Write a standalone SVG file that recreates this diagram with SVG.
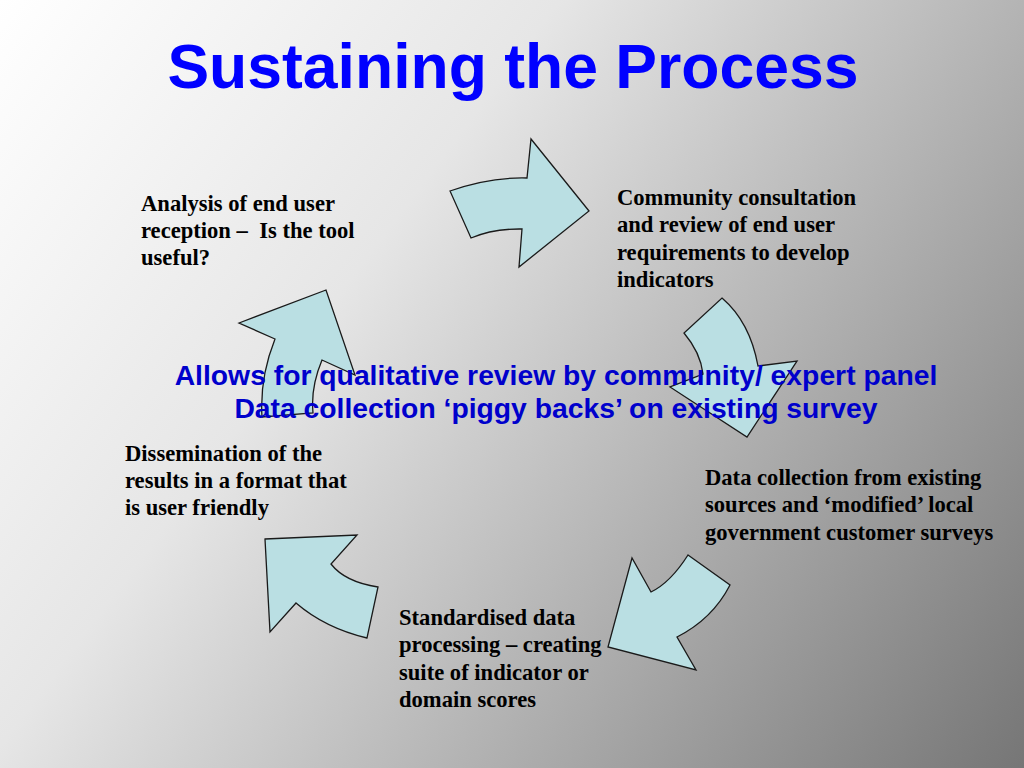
<svg xmlns="http://www.w3.org/2000/svg" width="1024" height="768" viewBox="0 0 1024 768">
<defs>
<linearGradient id="bg" gradientUnits="userSpaceOnUse" x1="0" y1="0" x2="1024" y2="768">
<stop offset="0" stop-color="#ffffff"/>
<stop offset="0.35" stop-color="#e6e6e6"/>
<stop offset="1" stop-color="#767676"/>
</linearGradient>
<style>
.arrow{fill:#badfe3;stroke:#1a1a1a;stroke-width:1.3;stroke-linejoin:miter}
.body{font-family:"Liberation Serif","Times New Roman",serif;font-weight:bold;font-size:22.6px;fill:#000}
.mid{font-family:"Liberation Sans",Arial,sans-serif;font-weight:bold;font-size:28.3px;fill:#0000cc;text-anchor:middle}
.title{font-family:"Liberation Sans",Arial,sans-serif;font-weight:bold;font-size:62.5px;fill:#0000ff;text-anchor:middle}
</style>
</defs>
<rect x="0" y="0" width="1024" height="768" fill="url(#bg)"/>
<text class="title" x="513" y="88">Sustaining the Process</text>
<g id="connectors">
<path id="arrow-top" class="arrow" d="M450,191 Q489.5,177 527,178 L531,139 L589,211 L519,267 L522,229 Q493.5,228.5 471,238 Z"/>
<path id="arrow-right" class="arrow" d="M722,298 Q750,322 758,366 L797,361 L747,437 L670,387 L703,374 Q700.5,352.5 684,333 Z"/>
<path id="arrow-bottom-right" class="arrow" d="M688,555 L730,585 Q712.5,619 677,637 L696,670 L608,647 L632,558 L651,592 Q670.5,582.5 688,555 Z"/>
<path id="arrow-bottom-left" class="arrow" d="M265,539 L357,535 L331,564 Q345,582 378,587 L367,638 Q325,628 296,603 L270,632 Z"/>
<path id="arrow-left" class="arrow" d="M239,323 L326,290 L355,375 L322,360 Q310.5,387.5 313,413 L262,417 Q259.5,378 275,339 Z"/>
</g>
<g id="node-analysis">
<text class="body" x="141" y="211">Analysis of end user</text>
<text class="body" x="141" y="238" xml:space="preserve">reception –  Is the tool</text>
<text class="body" x="141" y="265">useful?</text>
</g>
<g id="node-community">
<text class="body" x="617" y="205">Community consultation</text>
<text class="body" x="617" y="232">and review of end user</text>
<text class="body" x="617" y="260">requirements to develop</text>
<text class="body" x="617" y="287">indicators</text>
</g>
<g id="node-datacollection">
<text class="body" x="705" y="485">Data collection from existing</text>
<text class="body" x="705" y="512">sources and ‘modified’ local</text>
<text class="body" x="705" y="540">government customer surveys</text>
</g>
<g id="node-standardised">
<text class="body" x="399" y="625">Standardised data</text>
<text class="body" x="399" y="652">processing – creating</text>
<text class="body" x="399" y="680">suite of indicator or</text>
<text class="body" x="399" y="707">domain scores</text>
</g>
<g id="node-dissemination">
<text class="body" x="125" y="461">Dissemination of the</text>
<text class="body" x="125" y="488">results in a format that</text>
<text class="body" x="125" y="515">is user friendly</text>
</g>
<g id="center-text">
<text class="mid" x="556" y="385">Allows for qualitative review by community/ expert panel</text>
<text class="mid" x="556" y="418">Data collection ‘piggy backs’ on existing survey</text>
</g>
</svg>
